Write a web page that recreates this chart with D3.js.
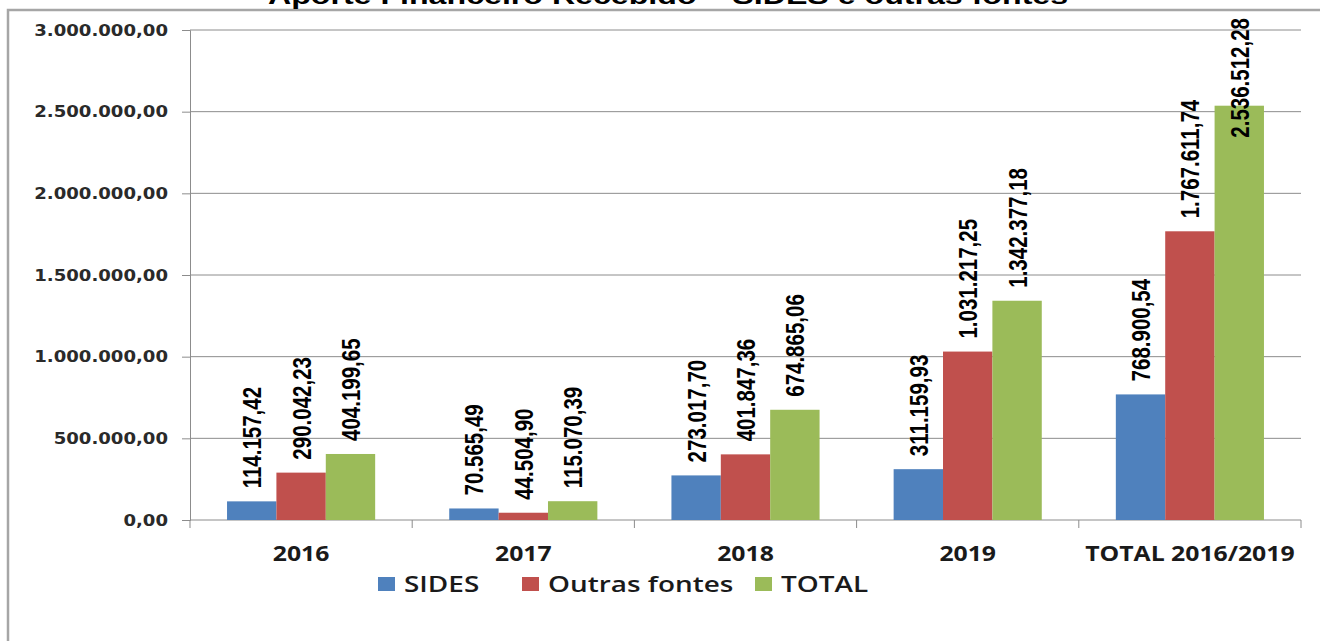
<!DOCTYPE html>
<html><head><meta charset="utf-8">
<script src="https://cdn.jsdelivr.net/npm/d3@7"></script>
<style>html,body{margin:0;padding:0;background:#fff;overflow:hidden}</style>
</head><body>
<svg id="chart" width="1320" height="641"></svg>
<script>
const title = "Aporte Financeiro Recebido – SIDES e outras fontes";
const categories = ["2016", "2017", "2018", "2019", "TOTAL 2016/2019"];
const seriesNames = ["SIDES", "Outras fontes", "TOTAL"];
const sides = [114157.42, 70565.49, 273017.70, 311159.93, 768900.54];
const outras = [290042.23, 44504.90, 401847.36, 1031217.25, 1767611.74];
const total = [404199.65, 115070.39, 674865.06, 1342377.18, 2536512.28];
const yTicks = [0, 500000, 1000000, 1500000, 2000000, 2500000, 3000000];
const colors = ["#4F81BD", "#C0504D", "#9BBB59"];

const seriesValues = [sides, outras, total];
const svg = d3.select("#chart");
const W = 1320, H = 641;
const margin = {left: 190, right: 19, top: 30, bottom: 124};

const loc = d3.formatLocale({decimal: ",", thousands: ".", grouping: [3], currency: ["R$", ""]});
const fmt = loc.format(",.2f");

// outer border (left and top edges visible)
svg.append("rect").attr("x", 8).attr("y", 10).attr("width", W + 40).attr("height", H + 40)
  .attr("fill", "none").attr("stroke", "#a6a6a6").attr("stroke-width", 2.5);

// title (cut at the top edge, as in the reference)
svg.append("text").attr("transform", "translate(668,4) scale(1.34,1)")
  .attr("text-anchor", "middle").attr("font-family", "Liberation Sans, Arial, sans-serif")
  .attr("font-weight", "bold").attr("font-size", 24).attr("fill", "#000").text(title);

const x0 = d3.scaleBand().domain(categories).range([margin.left, W - margin.right])
  .paddingInner(1/3).paddingOuter(1/6);
const x1 = d3.scaleBand().domain(seriesNames).range([0, x0.bandwidth()]);
const y = d3.scaleLinear().domain([0, 3000000]).range([H - margin.bottom + 3, margin.top]);

// gridlines
svg.append("g").selectAll("line").data(yTicks.filter(d => d > 0)).join("line")
  .attr("x1", margin.left).attr("x2", W - margin.right)
  .attr("y1", d => y(d)).attr("y2", d => y(d))
  .attr("stroke", "#8c8c8c").attr("stroke-width", 1);

// y axis
const yAxis = d3.axisLeft(y).tickValues(yTicks).tickSize(8).tickPadding(14)
  .tickFormat(d => fmt(d));
const gy = svg.append("g").attr("transform", `translate(${margin.left},0)`).call(yAxis);
gy.select(".domain").attr("stroke", "#8c8c8c");
gy.selectAll(".tick line").attr("stroke", "#8c8c8c");
gy.selectAll(".tick text").attr("font-family", "DejaVu Sans, Verdana, sans-serif")
  .attr("font-weight", "bold").attr("font-size", 16).attr("fill", "#2a2a2a")
  .each(function() {
    const t = d3.select(this);
    const xx = +t.attr("x");
    t.attr("transform", `translate(${xx},0) scale(1.13,1)`).attr("x", 0);
  });

// x axis line + ticks at band boundaries
const step = x0.step();
const bounds = d3.range(categories.length + 1).map(i => margin.left + i * step);
svg.append("line").attr("x1", margin.left).attr("x2", W - margin.right)
  .attr("y1", y(0)).attr("y2", y(0)).attr("stroke", "#8c8c8c");
svg.append("g").selectAll("line").data(bounds).join("line")
  .attr("x1", d => d).attr("x2", d => d).attr("y1", y(0)).attr("y2", y(0) + 8)
  .attr("stroke", "#8c8c8c");

// x labels
svg.append("g").selectAll("text").data(categories).join("text")
  .attr("transform", d => `translate(${x0(d) + x0.bandwidth() / 2},561) scale(1.18,1)`)
  .attr("text-anchor", "middle").attr("font-family", "Open Sans, sans-serif")
  .attr("font-weight", "bold").attr("font-size", 21).attr("fill", "#1a1a1a").text(d => d);

// bars
const data = [];
categories.forEach((c, i) => seriesNames.forEach((s, j) => data.push({c, s, j, v: seriesValues[j][i]})));
svg.append("g").selectAll("rect").data(data).join("rect")
  .attr("x", d => x0(d.c) + x1(d.s)).attr("width", x1.bandwidth())
  .attr("y", d => y(d.v)).attr("height", d => y(0) - y(d.v))
  .attr("fill", d => colors[d.j]);

// data labels (narrow, tall bold figures, rotated)
const sx = 0.82, sy = 1.06;
const lbl = svg.append("g").selectAll("text").data(data).join("text")
  .attr("font-family", "Liberation Sans, Arial, sans-serif")
  .attr("font-weight", "bold").attr("font-size", 25).attr("fill", "#000")
  .attr("text-anchor", "start").attr("dy", "0.36em")
  .text(d => fmt(d.v));
lbl.each(function(d) {
  const len = this.getComputedTextLength() * sx;
  let bottom = y(d.v) - 13;
  if (bottom - len < 18) bottom = 18 + len;
  const cx = x0(d.c) + x1(d.s) + x1.bandwidth() / 2;
  d3.select(this).attr("transform", `translate(${cx},${bottom}) rotate(-90) scale(${sx},${sy})`);
});

// legend
const legendX = [378, 522, 755];
const leg = svg.append("g");
seriesNames.forEach((s, j) => {
  leg.append("rect").attr("x", legendX[j]).attr("y", 577).attr("width", 17).attr("height", 14).attr("fill", colors[j]);
  leg.append("text").attr("transform", `translate(${legendX[j] + 26},592) scale(1.33,1)`)
    .attr("font-family", "Open Sans, sans-serif").attr("font-weight", 600)
    .attr("font-size", 21).attr("fill", "#1a1a1a").text(s);
});
</script>
</body></html>
